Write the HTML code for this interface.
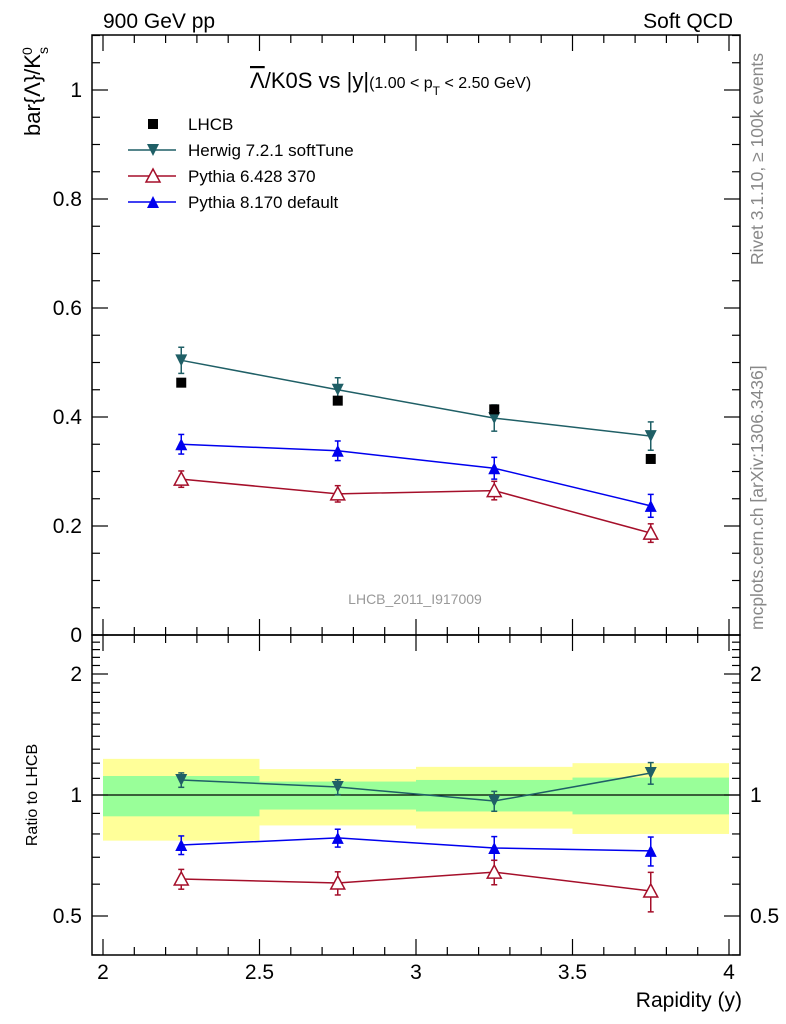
<!DOCTYPE html>
<html><head><meta charset="utf-8"><style>
body{margin:0;background:#fff;}
svg{display:block;font-family:"Liberation Sans",sans-serif;}
</style></head><body>
<svg id="chart" width="786" height="1024" xmlns="http://www.w3.org/2000/svg">
<text x="103" y="28" font-size="21">900 GeV pp</text>
<text x="733" y="28" font-size="21" text-anchor="end">Soft QCD</text>
<text x="250" y="88" font-size="22"><tspan text-decoration="overline">Λ</tspan>/K0S vs |y|<tspan font-size="16">(1.00 &lt; p<tspan baseline-shift="sub" font-size="12">T</tspan> &lt; 2.50 GeV)</tspan></text>
<text transform="translate(40,136) rotate(-90)" font-size="22">bar{Λ}/K<tspan baseline-shift="sub" font-size="14">s</tspan><tspan baseline-shift="super" font-size="14" dx="-8">0</tspan></text>
<text transform="translate(37,795) rotate(-90)" font-size="16" text-anchor="middle">Ratio to LHCB</text>
<text x="742" y="1007" font-size="21" text-anchor="end">Rapidity (y)</text>
<text transform="translate(763,265) rotate(-90)" font-size="17.5" fill="#888">Rivet 3.1.10, ≥ 100k events</text>
<text transform="translate(763,630) rotate(-90)" font-size="17.5" fill="#888">mcplots.cern.ch [arXiv:1306.3436]</text>
<text x="415" y="604" font-size="14" fill="#999" text-anchor="middle">LHCB_2011_I917009</text>
<g id="main"></g>
</svg>
<script>
const xCenters=[2.25,2.75,3.25,3.75];
const lhcb=[0.463,0.430,0.414,0.323];
const herwig=[0.504,0.450,0.398,0.365];
const herwigErr=[0.024,0.022,0.024,0.026];
const py6=[0.286,0.259,0.265,0.187];
const py6Err=[0.015,0.015,0.017,0.017];
const py8=[0.350,0.338,0.306,0.237];
const py8Err=[0.018,0.018,0.020,0.021];
const binEdges=[2,2.5,3,3.5,4];
const bandYellow=[0.23,0.16,0.175,0.2];
const bandGreen=[0.115,0.08,0.09,0.105];
const rHerwig=[1.09,1.047,0.966,1.134];
const rHerwigErr=[0.045,0.045,0.055,0.07];
const rPy8=[0.751,0.782,0.738,0.726];
const rPy8Err=[0.04,0.04,0.05,0.06];
const rPy6=[0.618,0.604,0.643,0.577];
const rPy6Err=[0.035,0.04,0.045,0.065];
const yTicks=[0,0.2,0.4,0.6,0.8,1];
const yTickLabels=["0","0.2","0.4","0.6","0.8","1"];
const rTicks=[0.5,1,2];
const rTickLabels=["0.5","1","2"];
const xTicks=[2,2.5,3,3.5,4];
const xTickLabels=["2","2.5","3","3.5","4"];

const NS="http://www.w3.org/2000/svg";
const g=document.getElementById('main');
const L=92,R=740,T=35,M=635,B=955;
const X=v=>103+(v-2)*313;
const Y=v=>635-v*545;
const RY=v=>795-Math.log2(v)*121;
function el(tag,attrs,parent){const e=document.createElementNS(NS,tag);for(const k in attrs)e.setAttribute(k,attrs[k]);(parent||g).appendChild(e);return e;}

for(let i=0;i<4;i++){
 let r=el('rect',{x:X(binEdges[i]),y:RY(1+bandYellow[i]),width:X(binEdges[i+1])-X(binEdges[i]),height:RY(1-bandYellow[i])-RY(1+bandYellow[i]),fill:'#ffff99'});
 
 
 let q=el('rect',{x:X(binEdges[i]),y:RY(1+bandGreen[i]),width:X(binEdges[i+1])-X(binEdges[i]),height:RY(1-bandGreen[i])-RY(1+bandGreen[i]),fill:'#99ff99'});
 
 
}
let one=el('line',{x1:L,x2:R,y1:RY(1),y2:RY(1),stroke:'#000','stroke-width':1.3});



for(const [y1,y2,n] of [[T,M,'main-frame'],[M,B,'ratio-frame']]){
 let f=el('rect',{x:L,y:y1,width:R-L,height:y2-y1,fill:'none',stroke:'#000','stroke-width':1.5});
 
 
}
for(let v=2;v<=4.0001;v+=0.05){
 const major=Math.abs(v*2-Math.round(v*2))<1e-6, mid=Math.abs(v*10-Math.round(v*10))<1e-6;
 const len=major?16:(mid?8:0); if(!len)continue;
 for(const [base,dir] of [[T,1],[M,-1],[M,1],[B,-1]]){
  el('line',{x1:X(v),x2:X(v),y1:base,y2:base+dir*len,stroke:'#000','stroke-width':1.2});
 }
}
xTicks.forEach((v,i)=>{let t=el('text',{x:X(v),y:979,'font-size':21,'text-anchor':'middle'});t.textContent=xTickLabels[i];
 
 });
for(let k=0;k<=22;k++){const v=k*0.05;const y=Y(v);if(y<T)continue;const len=(k%4==0)?16:8;
 el('line',{x1:L,x2:L+len,y1:y,y2:y,stroke:'#000','stroke-width':1.2});
 el('line',{x1:R,x2:R-len,y1:y,y2:y,stroke:'#000','stroke-width':1.2});}
yTicks.forEach((v,i)=>{let t=el('text',{x:82,y:Y(v)+7,'font-size':21,'text-anchor':'end'});t.textContent=yTickLabels[i];
 
 });
const rMinor=[0.4,0.5,0.6,0.7,0.8,0.9,1,1.1,1.2,1.3,1.4,1.5,1.6,1.7,1.8,1.9,2,2.1,2.2,2.3,2.4];
rMinor.forEach(v=>{const y=RY(v);if(y<M||y>B)return;const len=rTicks.includes(v)?16:8;
 el('line',{x1:L,x2:L+len,y1:y,y2:y,stroke:'#000','stroke-width':1.2});
 el('line',{x1:R,x2:R-len,y1:y,y2:y,stroke:'#000','stroke-width':1.2});});
rTicks.forEach((v,i)=>{let t=el('text',{x:82,y:RY(v)+7,'font-size':21,'text-anchor':'end'});t.textContent=rTickLabels[i];
 
 
 let t2=el('text',{x:750,y:RY(v)+7,'font-size':21});t2.textContent=rTickLabels[i];
 
 });

function marker(x,y,type,color){
 if(type==='down')return el('path',{d:`M${x-6},${y-6}L${x+6},${y-6}L${x},${y+6}Z`,fill:color});
 if(type==='up')return el('path',{d:`M${x-6},${y+6}L${x+6},${y+6}L${x},${y-6}Z`,fill:color});
 if(type==='open')return el('path',{d:`M${x-7},${y+6}L${x+7},${y+6}L${x},${y-7}Z`,fill:'#fff',stroke:color,'stroke-width':1.5});
 return el('rect',{x:x-5,y:y-5,width:10,height:10,fill:color});
}
function series(vals,errs,fy,color,type,name){
 const pts=vals.map((v,i)=>X(xCenters[i])+','+fy(v)).join(' ');
 let pl=el('polyline',{points:pts,fill:'none',stroke:color,'stroke-width':1.5});
 
 
 vals.forEach((v,i)=>{const x=X(xCenters[i]);
  if(errs){const y1=fy(v+errs[i]),y2=fy(v-errs[i]);
   el('line',{x1:x,x2:x,y1:y1,y2:y2,stroke:color,'stroke-width':1.5});
   el('line',{x1:x-3,x2:x+3,y1:y1,y2:y1,stroke:color,'stroke-width':1.5});
   el('line',{x1:x-3,x2:x+3,y1:y2,y2:y2,stroke:color,'stroke-width':1.5});}
  let m=marker(x,fy(v),type,color);
  
  });
}
series(herwig,herwigErr,Y,'#1f5f66','down','herwig');
series(py6,py6Err,Y,'#a50f2a','open','pythia6');
series(py8,py8Err,Y,'#0000ee','up','pythia8');
lhcb.forEach((v,i)=>{let m=marker(X(xCenters[i]),Y(v),'sq','#000');
 
 });
series(rHerwig,rHerwigErr,RY,'#1f5f66','down','herwig-ratio');
series(rPy8,rPy8Err,RY,'#0000ee','up','pythia8-ratio');
series(rPy6,rPy6Err,RY,'#a50f2a','open','pythia6-ratio');

const legNames=["LHCB","Herwig 7.2.1 softTune","Pythia 6.428 370","Pythia 8.170 default"];
const legTypes=['sq','down','open','up'];
const legColors=['#000','#1f5f66','#a50f2a','#0000ee'];
legNames.forEach((n,i)=>{const y=124+i*26;
 if(i>0){el('line',{x1:128,x2:176,y1:y,y2:y,stroke:legColors[i],'stroke-width':1.5});}
 marker(153,y,legTypes[i],legColors[i]);
 let t=el('text',{x:188,y:y+6,'font-size':17});t.textContent=n;
 
 });
</script>
</body></html>
